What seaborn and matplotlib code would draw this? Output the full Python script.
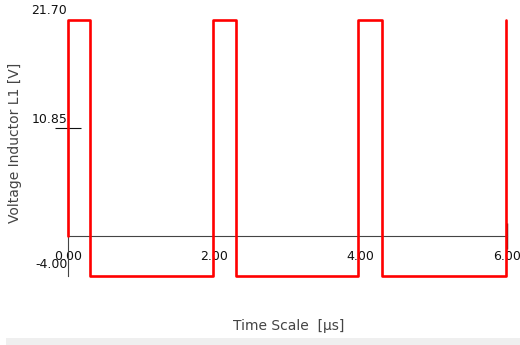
import matplotlib
matplotlib.use("Agg")
import matplotlib.pyplot as plt
import matplotlib.transforms as mtransforms
import seaborn as sns
import pandas as pd
from matplotlib.patches import Rectangle

sns.set_style("white")
plt.rcParams['font.family'] = ['DejaVu Sans']

# Data (step waveform corners)
time_us = [0.0, 0.0, 0.30, 0.30, 1.98, 1.98, 2.30, 2.30, 3.97, 3.97, 4.29, 4.29, 5.985, 5.985]
voltage = [0.0, 21.7, 21.7, -4.0, -4.0, 21.7, 21.7, -4.0, -4.0, 21.7, 21.7, -4.0, -4.0, 21.7]
x_ticks = [0.0, 2.0, 4.0, 6.0]
x_tick_labels = ["0.00", "2.00", "4.00", "6.00"]
y_ticks = [-4.0, 10.85, 21.7]
y_tick_labels = ["-4.00", "10.85", "21.70"]

df = pd.DataFrame({"t": time_us, "v": voltage})

W, H = 520, 345
fig = plt.figure(figsize=(W / 100, H / 100), dpi=100)
ax = fig.add_axes([68 / W, 1 - 276 / H, (507 - 68) / W, (276 - 20) / H])

sns.lineplot(data=df, x="t", y="v", sort=False, estimator=None, ax=ax,
             color="#ff0000", linewidth=1.9, clip_on=False, zorder=5)

ax.set_xlim(0, 6)
ax.set_ylim(-4, 21.7)

for s in ["top", "right"]:
    ax.spines[s].set_visible(False)
ax.spines["bottom"].set_position(("data", 0))
for s in ["bottom", "left"]:
    ax.spines[s].set_color("#444444")
    ax.spines[s].set_linewidth(0.8)

ax.set_xticks(x_ticks)
ax.set_xticklabels(x_tick_labels, fontsize=9, color="#111111")
ax.set_yticks(y_ticks)
ax.set_yticklabels(y_tick_labels, fontsize=9, color="#111111")
ax.tick_params(axis="x", bottom=True, direction="inout", length=19, width=1,
               color="#111111", pad=0.5)
ax.tick_params(axis="y", left=True, direction="inout", length=19, width=0.8,
               color="#111111", pad=-9)
for i, t in enumerate(ax.xaxis.get_major_ticks()):
    if i < 3:
        t.tick1line.set_visible(False)
ups = [5, 2, 3]
for i, t in enumerate(ax.yaxis.get_major_ticks()):
    if i != 1:
        t.tick1line.set_visible(False)
    t.label1.set_va("bottom")
    t.label1.set_transform(t.label1.get_transform() +
                           mtransforms.ScaledTranslation(0, ups[i] / 100, fig.dpi_scale_trans))

ax.set_xlabel("Time Scale  [µs]", fontsize=10, color="#444444")
ax.xaxis.set_label_coords((289 - 68) / (507 - 68), -(319 - 276) / (276 - 20))
ax.set_ylabel("Voltage Inductor L1 [V]", fontsize=10, color="#444444")
ax.yaxis.set_label_coords(-(68 - 22) / (507 - 68), (276 - 143) / (276 - 20))

fig.patches.append(Rectangle((6 / W, 0), 1, 7 / H, transform=fig.transFigure,
                             facecolor="#efefef", edgecolor="none", zorder=0))

fig.savefig("out.png", dpi=100)
